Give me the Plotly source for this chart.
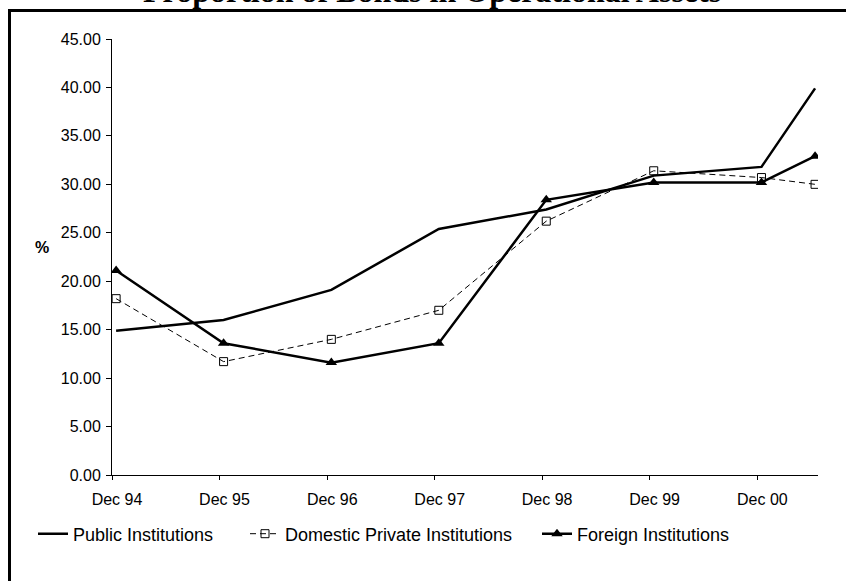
import plotly.graph_objects as go

# Observation dates (mid-December each year, last one mid-June 2001)
dates = ["1994-12-15", "1995-12-15", "1996-12-15", "1997-12-15",
         "1998-12-15", "1999-12-15", "2000-12-15", "2001-06-15"]

# Share of bonds in operational assets (%)
public_inst = [14.9, 16.0, 19.1, 25.4, 27.4, 30.9, 31.8, 39.9]
domestic_private = [18.2, 11.7, 14.0, 17.0, 26.2, 31.4, 30.7, 30.0]
foreign_inst = [21.1, 13.6, 11.6, 13.6, 28.4, 30.2, 30.2, 32.9]

# Year ticks
tick_dates = ["1994-12-01", "1995-12-01", "1996-12-01", "1997-12-01",
              "1998-12-01", "1999-12-01", "2000-12-01"]
tick_labels = ["Dec 94", "Dec 95", "Dec 96", "Dec 97", "Dec 98", "Dec 99", "Dec 00"]

FONT = "Liberation Sans, Arial, sans-serif"

W, H = 846, 581
L, R, T, B = 112, 28, 39, 106
pw, ph = W - L - R, H - T - B


def px_x(px):
    return (px - L) / pw


def px_y(py):
    return (H - B - py) / ph


fig = go.Figure()
fig.add_trace(go.Scatter(
    x=dates, y=public_inst, name="Public Institutions", mode="lines",
    line=dict(color="black", width=2.5), legend="legend"))
fig.add_trace(go.Scatter(
    x=dates, y=domestic_private, name="Domestic Private Institutions",
    mode="lines+markers",
    line=dict(color="black", width=1, dash="6px,4px"),
    marker=dict(symbol="square-open", size=8, color="black",
                line=dict(color="black", width=1)),
    legend="legend2"))
fig.add_trace(go.Scatter(
    x=dates, y=foreign_inst, name="Foreign Institutions", mode="lines+markers",
    line=dict(color="black", width=2.5),
    marker=dict(symbol="triangle-up", size=10, color="black"),
    legend="legend3"))

legend_font = dict(family=FONT, size=18, color="black")


def legend_at(px):
    return dict(orientation="h", x=px_x(px), y=px_y(534),
                xanchor="left", yanchor="middle",
                font=legend_font, bgcolor="rgba(0,0,0,0)")


fig.update_layout(
    width=W, height=H,
    margin=dict(l=L, r=R, t=T, b=B),
    paper_bgcolor="white", plot_bgcolor="white",
    font=dict(family=FONT, size=16, color="black"),
    showlegend=True,
    legend=legend_at(33),
    legend2=legend_at(245),
    legend3=legend_at(537),
    xaxis=dict(
        type="date", range=["1994-12-01", "2001-06-25"],
        tickmode="array", tickvals=tick_dates, ticktext=tick_labels,
        ticks="outside", ticklen=4, tickcolor="black",
        showline=True, linecolor="black", linewidth=1,
        showgrid=False, zeroline=False,
        ticklabelshift=5, ticklabelstandoff=6,
        tickfont=dict(family=FONT, size=16, color="black")),
    yaxis=dict(
        range=[0, 45], dtick=5, tick0=0, tickformat=".2f",
        ticks="outside", ticklen=5, tickcolor="black",
        showline=True, linecolor="black", linewidth=1,
        showgrid=False, zeroline=False, ticklabelstandoff=2,
        tickfont=dict(family=FONT, size=16, color="black")),
)

# Chart title (partly above the page edge)
fig.add_annotation(
    text="<b>Proportion of Bonds in Operational Assets</b>",
    xref="paper", yref="paper", x=px_x(431.5), y=px_y(-9.5),
    xanchor="center", yanchor="middle", showarrow=False,
    font=dict(family="Liberation Serif, Times New Roman, serif", size=32, color="black"))

# Axis unit label
fig.add_annotation(
    text="<b>%</b>", xref="paper", yref="paper",
    x=px_x(41.7), y=px_y(248), xanchor="center", yanchor="middle",
    showarrow=False, font=dict(family=FONT, size=16, color="black"))

# Outer frame: only its left and top edges are on the page
fx0, fy_top, fy_bot, fx_end = px_x(9.5), px_y(10.5), px_y(700), px_x(1000)
fig.add_shape(
    type="path", xref="paper", yref="paper",
    path=f"M {fx0},{fy_bot} L {fx0},{fy_top} L {fx_end},{fy_top}",
    line=dict(color="black", width=3), layer="below")

fig.write_html("out.html")
